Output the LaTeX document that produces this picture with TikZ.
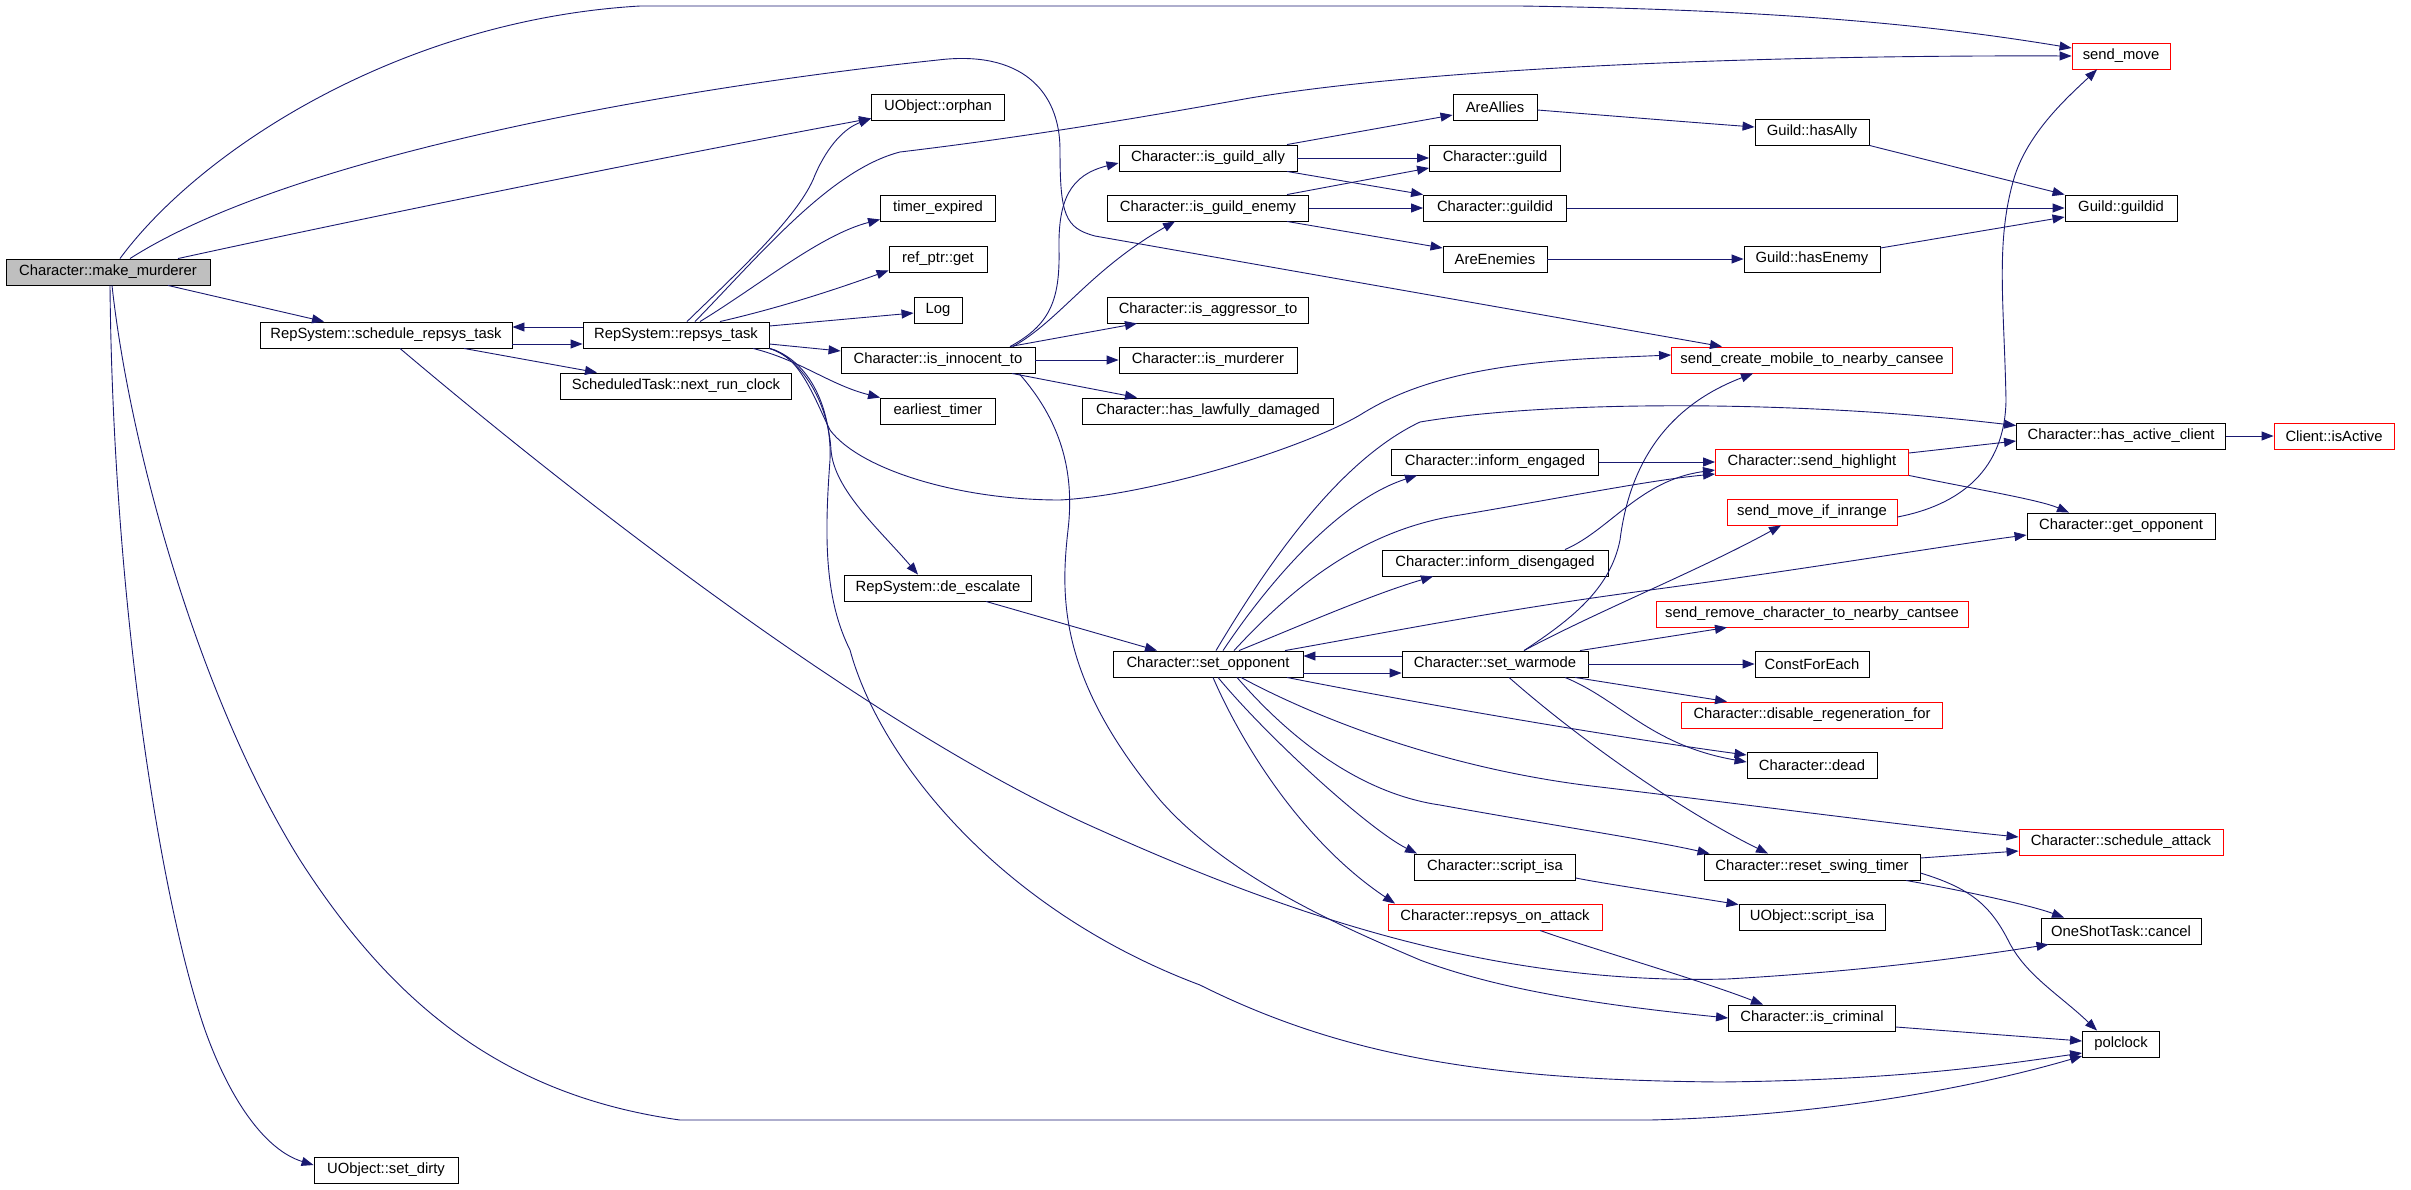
\documentclass[tikz,border=0pt]{standalone}
\usepackage{fontspec}
\setmainfont{Liberation Sans}
\usetikzlibrary{arrows.meta}
\definecolor{edgeblue}{HTML}{191970}
\definecolor{mmgray}{HTML}{BFBFBF}
\definecolor{boxred}{HTML}{FF0000}
\tikzset{
  fn/.style={draw=black, fill=white, line width=0.9pt, minimum height=26pt, inner sep=0pt,
    font=\fontsize{14.8pt}{17pt}\selectfont},
  rfn/.style={fn, draw=boxred},
  call/.style={draw=edgeblue, line width=0.9pt, -{Triangle[length=12pt,width=9pt]}}
}
\begin{document}
\begin{tikzpicture}[x=1pt,y=-1pt]
\useasboundingbox (0,0) rectangle (2411,1189);
% nodes
\node[fn, fill=mmgray, minimum width=204pt] (mm) at (108,272) {Character::make\_murderer};
\node[fn, minimum width=252pt] (srt) at (386,335) {RepSystem::schedule\_repsys\_task};
\node[fn, minimum width=186pt] (rt) at (676,335) {RepSystem::repsys\_task};
\node[fn, minimum width=231pt] (nrc) at (676,386) {ScheduledTask::next\_run\_clock};
\node[fn, minimum width=144pt] (sd) at (386,1170) {UObject::set\_dirty};
\node[fn, minimum width=133pt] (orph) at (938,107) {UObject::orphan};
\node[fn, minimum width=115pt] (te) at (938,208) {timer\_expired};
\node[fn, minimum width=98pt] (rpg) at (938,259) {ref\_ptr::get};
\node[fn, minimum width=48pt] (log) at (938,310) {Log};
\node[fn, minimum width=194pt] (iit) at (938,360) {Character::is\_innocent\_to};
\node[fn, minimum width=115pt] (et) at (938,411) {earliest\_timer};
\node[fn, minimum width=187pt] (dee) at (938,588) {RepSystem::de\_escalate};
\node[fn, minimum width=178pt] (iga) at (1208,158) {Character::is\_guild\_ally};
\node[fn, minimum width=201pt] (ige) at (1208,208) {Character::is\_guild\_enemy};
\node[fn, minimum width=201pt] (iat) at (1208,310) {Character::is\_aggressor\_to};
\node[fn, minimum width=178pt] (imu) at (1208,360) {Character::is\_murderer};
\node[fn, minimum width=251pt] (hld) at (1208,411) {Character::has\_lawfully\_damaged};
\node[fn, minimum width=190pt] (so) at (1208,664) {Character::set\_opponent};
\node[fn, minimum width=84pt] (aa) at (1495,107) {AreAllies};
\node[fn, minimum width=131pt] (cg) at (1495,158) {Character::guild};
\node[fn, minimum width=143pt] (cgid) at (1495,208) {Character::guildid};
\node[fn, minimum width=104pt] (ae) at (1495,259) {AreEnemies};
\node[fn, minimum width=207pt] (ie) at (1495,462) {Character::inform\_engaged};
\node[fn, minimum width=226pt] (idis) at (1495,563) {Character::inform\_disengaged};
\node[fn, minimum width=186pt] (sw) at (1495,664) {Character::set\_warmode};
\node[fn, minimum width=161pt] (si) at (1495,867) {Character::script\_isa};
\node[rfn, minimum width=214pt] (roa) at (1495,917) {Character::repsys\_on\_attack};
\node[fn, minimum width=114pt] (gha) at (1812,132) {Guild::hasAlly};
\node[fn, minimum width=136pt] (ghe) at (1812,259) {Guild::hasEnemy};
\node[rfn, minimum width=281pt] (scm) at (1812,360) {send\_create\_mobile\_to\_nearby\_cansee};
\node[rfn, minimum width=193pt] (sh) at (1812,462) {Character::send\_highlight};
\node[rfn, minimum width=170pt] (smi) at (1812,512) {send\_move\_if\_inrange};
\node[rfn, minimum width=312pt] (src) at (1812,614) {send\_remove\_character\_to\_nearby\_cantsee};
\node[fn, minimum width=114pt] (cfe) at (1812,664) {ConstForEach};
\node[rfn, minimum width=261pt] (drf) at (1812,715) {Character::disable\_regeneration\_for};
\node[fn, minimum width=130pt] (dead) at (1812,765) {Character::dead};
\node[fn, minimum width=216pt] (rst) at (1812,867) {Character::reset\_swing\_timer};
\node[fn, minimum width=146pt] (usi) at (1812,917) {UObject::script\_isa};
\node[fn, minimum width=167pt] (icr) at (1812,1018) {Character::is\_criminal};
\node[rfn, minimum width=98pt] (sm) at (2121,56) {send\_move};
\node[fn, minimum width=112pt] (ggid) at (2121,208) {Guild::guildid};
\node[fn, minimum width=209pt] (hac) at (2121,436) {Character::has\_active\_client};
\node[fn, minimum width=188pt] (gop) at (2121,526) {Character::get\_opponent};
\node[rfn, minimum width=204pt] (sa) at (2121,842) {Character::schedule\_attack};
\node[fn, minimum width=160pt] (osc) at (2121,931) {OneShotTask::cancel};
\node[fn, minimum width=77pt] (pc) at (2121,1044) {polclock};
\node[rfn, minimum width=120pt] (ca) at (2334,436) {Client::isActive};
% make_murderer
\draw[call] ([xshift=12pt]mm.north) .. controls (200,150) and (400,20) .. (640,6) -- (1520,6) .. controls (1800,10) and (1950,28) .. ([yshift=8pt]sm.west);
\draw[call] ([xshift=22pt]mm.north) .. controls (300,150) and (700,85) .. (938,60) .. controls (1020,50) and (1060,90) .. (1060,150) .. controls (1060,215) and (1065,228) .. (1095,236) -- ([xshift=-90pt]scm.north);
\draw[call] ([xshift=70pt]mm.north) .. controls (400,210) and (700,150) .. ([yshift=2pt]orph.south west);
\draw[call] ([xshift=60pt]mm.south) -- ([xshift=-62pt]srt.north);
\draw[call] ([xshift=2pt]mm.south) .. controls (113,600) and (160,900) .. (205,1030) .. controls (230,1100) and (265,1150) .. ([yshift=5pt]sd.west);
\draw[call] ([xshift=4pt]mm.south) .. controls (130,450) and (200,700) .. (300,860) .. controls (390,1000) and (500,1095) .. (680,1120) -- (1650,1120) .. controls (1850,1115) and (2000,1080) .. ([yshift=-12pt]pc.west);
% schedule_repsys_task
\draw[call] ([yshift=-9pt]srt.east) -- ([yshift=-9pt]rt.west);
\draw[call] ([yshift=8pt]rt.west) -- ([yshift=8pt]srt.east);
\draw[call] ([xshift=78pt]srt.south) -- ([xshift=-79pt]nrc.north);
\draw[call] ([xshift=14pt]srt.south) .. controls (520,450) and (850,720) .. (1100,830) .. controls (1300,920) and (1500,985) .. (1727,979) .. controls (1850,972) and (1950,960) .. ([xshift=8pt]osc.south west);
% repsys_task
\draw[call] ([xshift=11pt]rt.north) .. controls (740,270) and (800,215) .. (815,175) .. controls (828,145) and (845,128) .. ([yshift=2pt]orph.south west);
\draw[call] ([xshift=19pt]rt.north) .. controls (760,255) and (830,170) .. (900,152) .. controls (1000,140) and (1100,125) .. (1250,98) .. controls (1450,65) and (1800,55) .. (sm.west);
\draw[call] ([xshift=24pt]rt.north) .. controls (760,285) and (820,235) .. ([yshift=2pt]te.south west);
\draw[call] ([xshift=44pt]rt.north) .. controls (770,310) and (820,295) .. ([yshift=2pt]rpg.south west);
\draw[call] ([yshift=9pt]rt.east) -- ([yshift=-3pt]log.west);
\draw[call] ([yshift=-9pt]rt.east) -- ([yshift=9pt]iit.west);
\draw[call] ([xshift=77pt]rt.south) .. controls (800,360) and (830,385) .. (et.north west);
\draw[call] (rt.south east) .. controls (800,358) and (828,400) .. (831,450) .. controls (834,490) and (880,530) .. ([xshift=-20pt]dee.north);
\draw[call] (rt.south east) .. controls (810,360) and (832,410) .. (830,460) .. controls (824,540) and (825,600) .. (850,650) .. controls (880,760) and (1000,910) .. (1200,985) .. controls (1350,1060) and (1500,1080) .. (1720,1082) .. controls (1900,1080) and (2000,1065) .. ([yshift=-9pt]pc.west);
\draw[call] (rt.south east) .. controls (800,355) and (815,400) .. (830,430) .. controls (860,470) and (960,500) .. (1060,500) .. controls (1150,495) and (1300,450) .. (1360,415) .. controls (1400,390) and (1460,365) .. (1600,358) -- ([yshift=5pt]scm.west);
% is_innocent_to
\draw[call] ([xshift=72pt]iit.north) .. controls (1050,325) and (1060,300) .. (1059,250) .. controls (1058,200) and (1070,175) .. ([yshift=-5pt]iga.west);
\draw[call] ([xshift=75pt]iit.north) .. controls (1060,320) and (1090,270) .. ([xshift=-33pt]ige.south);
\draw[call] ([xshift=72pt]iit.north) -- ([xshift=-71pt]iat.south);
\draw[call] (iit.east) -- (imu.west);
\draw[call] ([xshift=74pt]iit.south) -- ([xshift=-71pt]hld.north);
\draw[call] ([xshift=81pt]iit.south) .. controls (1060,420) and (1075,470) .. (1068,530) .. controls (1060,600) and (1060,680) .. (1160,800) .. controls (1230,880) and (1350,930) .. (1420,960) .. controls (1500,990) and (1600,1005) .. (icr.west);
% guild
\draw[call] ([xshift=79pt]iga.north) -- ([yshift=-8pt]aa.west);
\draw[call] (iga.east) -- (cg.west);
\draw[call] ([xshift=79pt]iga.south) -- (cgid.north west);
\draw[call] ([xshift=79pt]ige.north) -- ([yshift=-10pt]cg.west);
\draw[call] (ige.east) -- (cgid.west);
\draw[call] ([xshift=79pt]ige.south) -- ([yshift=11pt]ae.west);
\draw[call] ([yshift=-3pt]aa.east) .. controls (1600,115) and (1700,123) .. ([yshift=5pt]gha.west);
\draw[call] (cgid.east) -- (ggid.west);
\draw[call] (ae.east) -- (ghe.west);
\draw[call] (gha.south east) -- (ggid.north west);
\draw[call] ([yshift=11pt]ghe.east) -- ([yshift=-9pt]ggid.west);
% de_escalate
\draw[call] ([xshift=48pt]dee.south) -- ([xshift=-51pt]so.north);
% set_opponent
\draw[call] ([yshift=-9pt]so.east) -- ([yshift=-9pt]sw.west);
\draw[call] ([yshift=8pt]sw.west) -- ([yshift=8pt]so.east);
\draw[call] ([xshift=8pt]so.north) .. controls (1270,560) and (1340,460) .. (1420,422) .. controls (1550,400) and (1800,400) .. ([yshift=-3pt]hac.north west);
\draw[call] ([xshift=15pt]so.north) .. controls (1270,580) and (1340,500) .. ([xshift=-78pt]ie.south);
\draw[call] ([xshift=26pt]so.north) .. controls (1290,590) and (1360,530) .. (1460,515) .. controls (1550,500) and (1650,480) .. ([yshift=-12pt]sh.west);
\draw[call] ([xshift=31pt]so.north) .. controls (1290,630) and (1370,595) .. ([xshift=-62pt]idis.south);
\draw[call] ([xshift=77pt]so.north) .. controls (1400,630) and (1500,610) .. (1650,590) .. controls (1800,570) and (1950,545) .. ([yshift=-9pt]gop.west);
\draw[call] ([xshift=79pt]so.south) .. controls (1400,700) and (1600,735) .. ([yshift=10pt]dead.west);
\draw[call] ([xshift=33pt]so.south) .. controls (1320,720) and (1450,770) .. (1600,787) .. controls (1750,805) and (1900,825) .. ([yshift=5pt]sa.west);
\draw[call] ([xshift=29pt]so.south) .. controls (1300,750) and (1370,795) .. (1440,805) .. controls (1550,825) and (1650,840) .. ([xshift=6pt]rst.north west);
\draw[call] ([xshift=5pt]so.south) .. controls (1240,740) and (1300,840) .. ([xshift=-100pt]roa.north);
\draw[call] ([xshift=10pt]so.south) .. controls (1270,740) and (1370,830) .. ([xshift=-78pt]si.north);
% set_warmode
\draw[call] ([xshift=29pt]sw.north) .. controls (1570,620) and (1610,590) .. (1620,540) .. controls (1630,460) and (1670,405) .. ([xshift=-59pt]scm.south);
\draw[call] ([xshift=29pt]sw.north) .. controls (1600,610) and (1700,570) .. ([xshift=-31pt]smi.south);
\draw[call] ([xshift=85pt]sw.north) -- ([xshift=-85pt]src.south);
\draw[call] (sw.east) -- (cfe.west);
\draw[call] ([xshift=80pt]sw.south) -- ([xshift=-85pt]drf.north);
\draw[call] ([xshift=70pt]sw.south) .. controls (1620,700) and (1650,745) .. ([yshift=3pt]dead.west);
\draw[call] ([xshift=14pt]sw.south) .. controls (1580,740) and (1680,810) .. ([xshift=-44pt]rst.north);
% highlight etc
\draw[call] (ie.east) -- (sh.west);
\draw[call] ([xshift=70pt]idis.north) .. controls (1610,530) and (1640,480) .. ([yshift=-8pt]sh.west);
\draw[call] ([yshift=9pt]sh.east) -- ([yshift=-5pt]hac.west);
\draw[call] (sh.south east) .. controls (1980,490) and (2040,500) .. ([xshift=-52pt]gop.north);
\draw[call] ([yshift=-5pt]smi.east) .. controls (1960,505) and (2005,470) .. (2006,400) .. controls (2004,300) and (1995,240) .. (2015,175) .. controls (2030,130) and (2070,95) .. ([xshift=-24pt]sm.south);
\draw[call] (hac.east) -- (ca.west);
% reset_swing_timer etc
\draw[call] ([yshift=9pt]rst.east) -- ([yshift=-9pt]sa.west);
\draw[call] ([xshift=94pt]rst.south) .. controls (1960,890) and (2030,905) .. ([xshift=-57pt]osc.north);
\draw[call] ([yshift=-6pt]rst.east) .. controls (1970,888) and (1990,905) .. (2008,940) .. controls (2025,975) and (2060,995) .. ([xshift=-24pt]pc.north);
\draw[call] ([yshift=-11pt]si.east) .. controls (1600,883) and (1680,895) .. ([yshift=-1pt]usi.north west);
\draw[call] ([xshift=45pt]roa.south) .. controls (1580,945) and (1700,980) .. ([xshift=-49pt]icr.north);
\draw[call] ([yshift=-9pt]icr.east) -- ([yshift=3pt]pc.west);
\end{tikzpicture}
\end{document}
